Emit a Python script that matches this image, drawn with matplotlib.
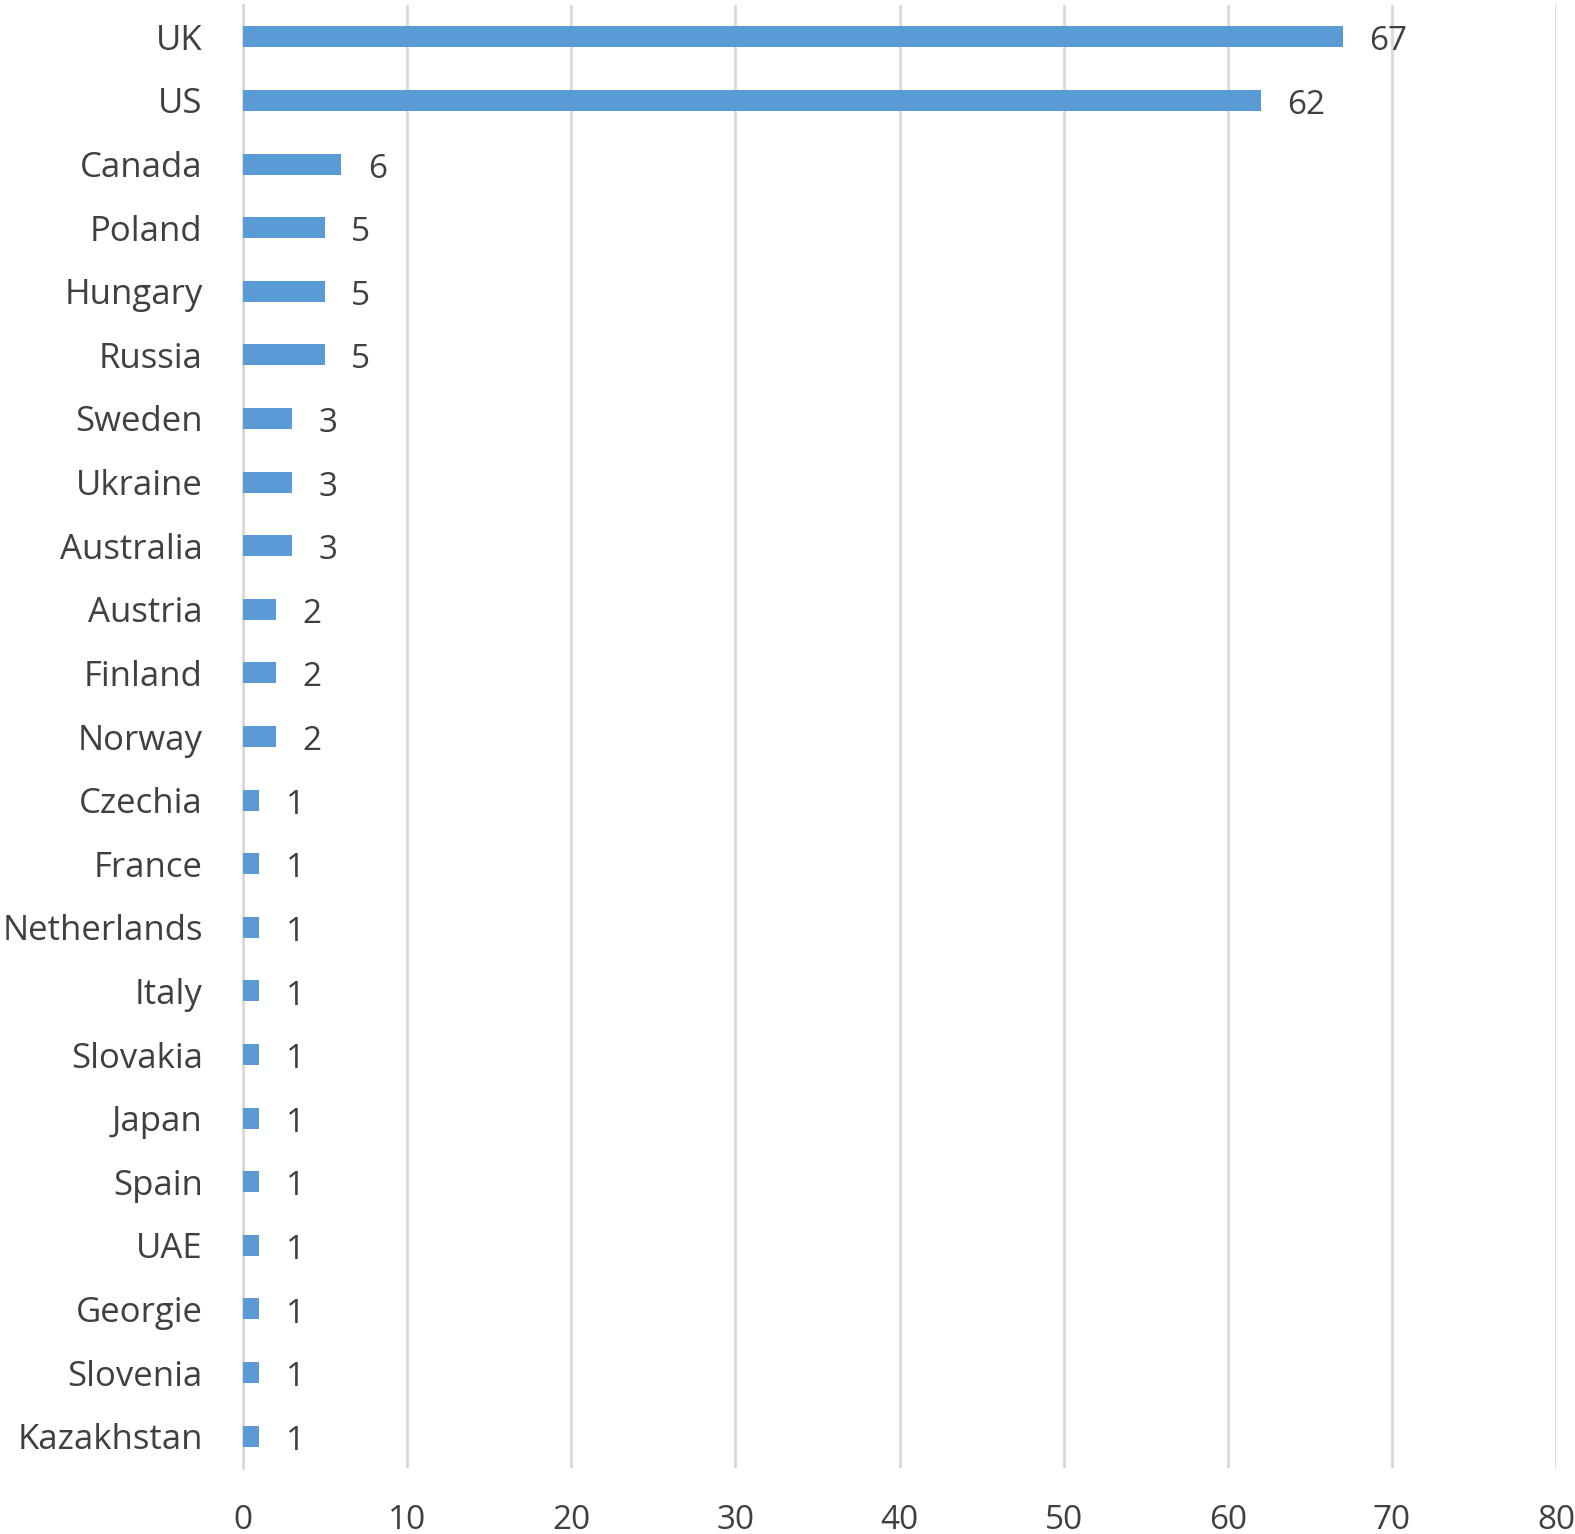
import matplotlib.pyplot as plt

countries = ["UK", "US", "Canada", "Poland", "Hungary", "Russia", "Sweden", "Ukraine",
             "Australia", "Austria", "Finland", "Norway", "Czechia", "France", "Netherlands",
             "Italy", "Slovakia", "Japan", "Spain", "UAE", "Georgie", "Slovenia", "Kazakhstan"]
counts = [67, 62, 6, 5, 5, 5, 3, 3, 3, 2, 2, 2, 1, 1, 1, 1, 1, 1, 1, 1, 1, 1, 1]
x_ticks = [0, 10, 20, 30, 40, 50, 60, 70, 80]

plt.rcParams['font.family'] = ['Open Sans', 'DejaVu Sans']
text_color = '#404040'

fig = plt.figure(figsize=(15.75, 15.34), dpi=100)
ax = fig.add_axes([243 / 1575, 1 - 1468 / 1534, (1556 - 243) / 1575, (1468 - 5) / 1534])

ypos = list(range(len(countries)))
ax.barh(ypos, counts, height=0.33, color='#5B9BD5', zorder=3)
for y, v in zip(ypos, counts):
    ax.text(v + 1.6, y + 0.08, str(v), va='center', ha='left', fontsize=24, color=text_color)

ax.set_ylim(len(countries) - 0.5, -0.5)
ax.set_xlim(0, 80)
ax.set_xticks(x_ticks)
ax.set_yticks(ypos)
ax.set_yticklabels(countries)
ax.tick_params(axis='both', length=0, labelsize=25, colors=text_color)
ax.tick_params(axis='x', labelsize=24, pad=26)
ax.tick_params(axis='y', pad=29)
ax.grid(axis='x', color='#D9D9D9', linewidth=2, zorder=0)
for s in ['top', 'right', 'bottom']:
    ax.spines[s].set_visible(False)
ax.spines['left'].set_color('#D9D9D9')
ax.spines['left'].set_linewidth(2)

fig.savefig('out.png', dpi=100)
